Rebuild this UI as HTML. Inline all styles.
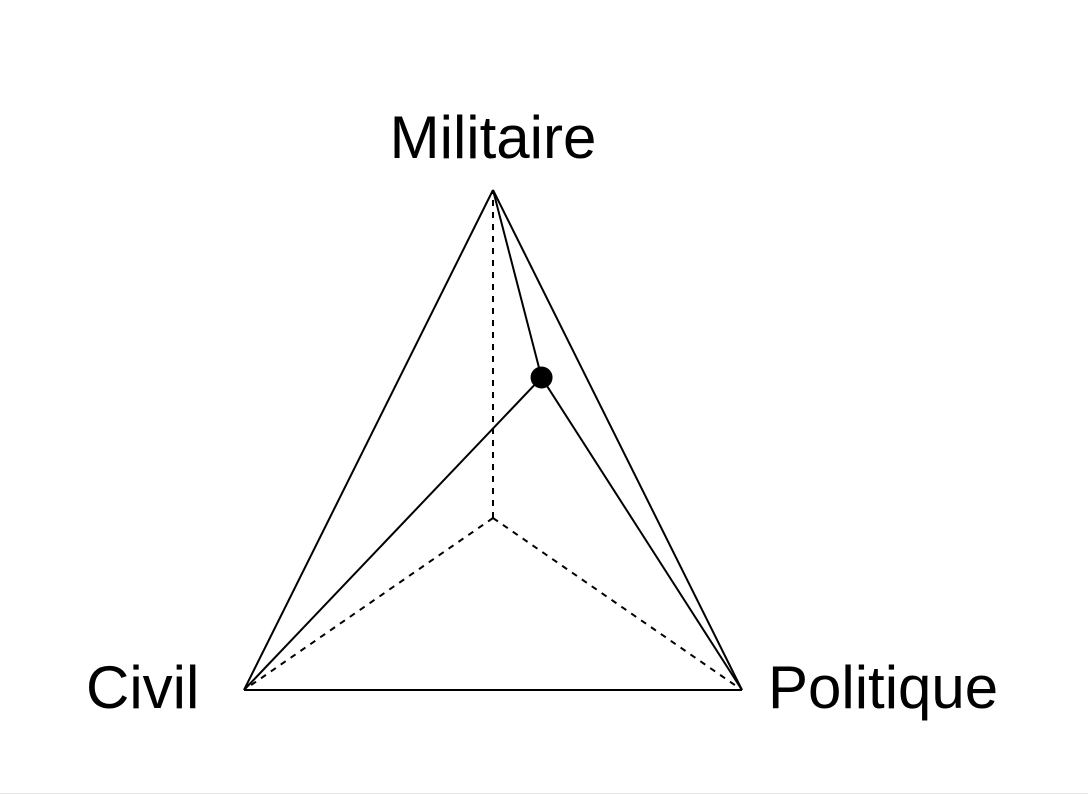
<!DOCTYPE html>
<html><head><meta charset="utf-8"><style>
html,body{margin:0;padding:0;background:#fff;}
svg{display:block;}
text{font-family:"Liberation Sans",Arial,sans-serif;font-size:60px;fill:#000;}
</style></head><body>
<svg width="1088" height="794" viewBox="0 0 1088 794">
<line x1="0" y1="793.5" x2="1088" y2="793.5" stroke="#e6e6e6" stroke-width="1"/>
<g id="g"></g>
</svg>
<script>
const axisNames = ["Militaire","Civil","Politique"];
const pointValues = [62.5, 9, 28.5];
const svgNS = "http://www.w3.org/2000/svg";
const g = document.getElementById('g');
const V = [[493,190],[244,690],[742,690]];
function proj(v){const s=v[0]+v[1]+v[2];let x=0,y=0;for(let i=0;i<3;i++){x+=V[i][0]*v[i]/s;y+=V[i][1]*v[i]/s;}return [x,y];}
function line(a,b,dash,name){const l=document.createElementNS(svgNS,'line');
l.setAttribute('x1',a[0]);l.setAttribute('y1',a[1]);l.setAttribute('x2',b[0]);l.setAttribute('y2',b[1]);
l.setAttribute('stroke','#000');l.setAttribute('stroke-width','2');if(dash)l.setAttribute('stroke-dasharray','6,6');


g.appendChild(l);}
const C = [493, 518];
for(let i=0;i<3;i++) line(C,V[i],true,'center-axis-'+i);
for(let i=0;i<3;i++) line(V[i],V[(i+1)%3],false,'triangle-edge-'+i);
const P = proj(pointValues);
for(let i=0;i<3;i++) line(P,V[i],false,'point-link-'+i);
const c=document.createElementNS(svgNS,'circle');
c.setAttribute('cx',P[0]);c.setAttribute('cy',P[1]);c.setAttribute('r','11');c.setAttribute('fill','#000');


g.appendChild(c);
const labelPos=[[493,158,'middle'],[86,708,'start'],[768,708,'start']];
for(let i=0;i<3;i++){const t=document.createElementNS(svgNS,'text');
t.setAttribute('x',labelPos[i][0]);t.setAttribute('y',labelPos[i][1]);t.setAttribute('text-anchor',labelPos[i][2]);
t.textContent=axisNames[i];


g.appendChild(t);}
</script>
</body></html>
